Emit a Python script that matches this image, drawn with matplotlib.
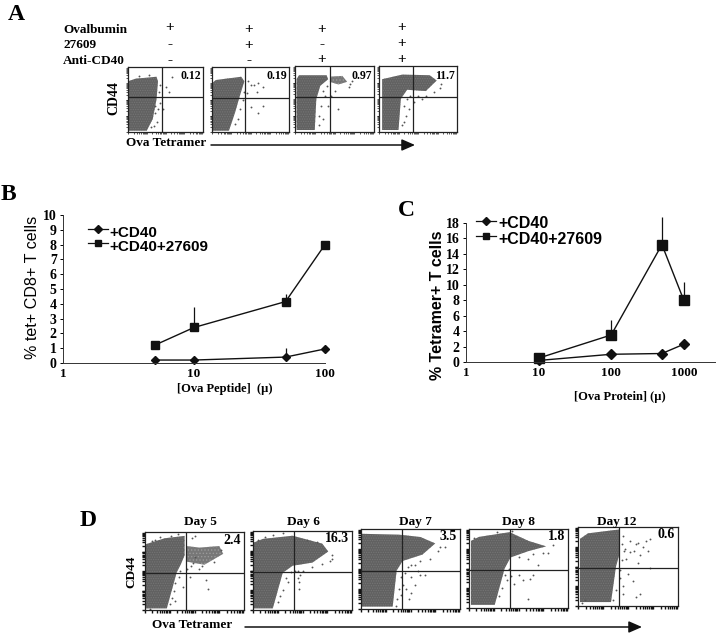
#!/usr/bin/env python3
"""Four panel figure: flow plots (A, D) and tetramer dose curves (B, C)."""

import numpy as np
import matplotlib
matplotlib.use('Agg')
import matplotlib.pyplot as plt

W, H = 720, 634
SERIF = 'Liberation Serif'
SANS = 'Liberation Sans'
DOT = '#616161'
plt.rcParams['hatch.linewidth'] = 0.6

# panel B
peptide_dose = [5, 10, 50, 100]
b_cd40 = [0.2, 0.2, 0.4, 0.95]
b_cd40_err = [0, 0, 0.6, 0]
b_combo = [1.2, 2.4, 4.15, 8.0]
b_combo_err = [0, 1.4, 0.5, 0]

# panel C
protein_dose = [10, 100, 500, 1000]
c_cd40 = [0.2, 1.0, 1.1, 2.3]
c_cd40_err = [0, 0, 0.5, 0]
c_combo = [0.5, 3.5, 15.2, 8.0]
c_combo_err = [0, 2.0, 3.6, 2.3]

# panel A, treatment table
treatment_names = ['Ovalbumin', '27609', 'Anti-CD40']
ovalbumin = ['+', '+', '+', '+']
drug = ['-', '+', '-', '+']
anti_cd40 = ['-', '-', '+', '+']

a_values = ['0.12', '0.19', '0.97', '11.7']
d_values = ['2.4', '16.3', '3.5', '1.8', '0.6']
d_days = ['Day 5', 'Day 6', 'Day 7', 'Day 8', 'Day 12']
d_day_x = [200, 303, 415, 518, 617]

# dense part of each flow plot, as outlines in box fractions (x, y from lower left)
a_clouds = [
    [(0, .02), (.25, .02), (.33, .2), (.38, .5), (.40, .78), (.38, .85), (.1, .82), (0, .78)],
    [(0, .02), (.22, .02), (.3, .3), (.36, .55), (.42, .78), (.38, .85), (.05, .8), (0, .75)],
    [(.02, .03), (.25, .03), (.27, .5), (.32, .7), (.42, .8), (.40, .86), (.05, .86), (.02, .8)],
    [(.04, .03), (.25, .03), (.28, .5), (.36, .64), (.6, .62), (.74, .78), (.65, .86), (.3, .87), (.04, .8)],
]
a_blobs = [None, None, [(.44, .76), (.55, .72), (.66, .76), (.6, .85), (.46, .84)], None]
d_clouds = [
    [(0, .02), (.22, .02), (.32, .48), (.36, .58), (.4, .7), (.4, .95), (.2, .92), (0, .84)],
    [(0, .02), (.2, .02), (.3, .47), (.4, .56), (.6, .6), (.76, .74), (.7, .84), (.4, .94), (.1, .9), (0, .85)],
    [(0, .03), (.32, .03), (.36, .48), (.42, .6), (.62, .68), (.75, .82), (.6, .9), (.38, .93), (0, .94)],
    [(.02, .04), (.26, .04), (.36, .5), (.42, .64), (.6, .72), (.78, .78), (.6, .85), (.41, .96), (.1, .9), (.02, .85)],
    [(.02, .05), (.33, .05), (.38, .5), (.42, .68), (.42, .97), (.1, .92), (.02, .85)],
]
d_blobs = [
    [(.42, .62), (.6, .58), (.79, .72), (.75, .82), (.55, .8), (.42, .82)],
    None, None, None, None,
]

# scattered events
a_events = [
    [(.5, .7), (.55, .62), (.42, .45), (.47, .36), (.58, .85), (.36, .3), (.38, .15), (.41, .62), (.4, .35),
     (.36, .4), (.34, .1), (.3, .08), (.42, .72), (.15, .86), (.28, .87)],
    [(.5, .72), (.6, .75), (.66, .7), (.58, .62), (.5, .38), (.6, .3), (.66, .4), (.46, .6), (.36, .35),
     (.34, .2), (.4, .5), (.42, .62), (.3, .12), (.47, .78), (.54, .72)],
    [(.5, .62), (.7, .72), (.45, .55), (.42, .4), (.55, .35), (.35, .2), (.38, .55), (.36, .62), (.33, .4),
     (.3, .25), (.31, .1), (.41, .7), (.72, .78), (.68, .68)],
    [(.45, .45), (.5, .55), (.38, .35), (.32, .15), (.8, .72), (.55, .5), (.36, .5), (.32, .4), (.35, .25),
     (.4, .55), (.3, .1), (.6, .55), (.7, .6), (.78, .66)],
]
d_events = [
    [(.47, .92), (.5, .95), (.45, .42), (.62, .38), (.64, .27), (.42, .52), (.46, .56), (.55, .52), (.38, .3),
     (.1, .9), (.15, .93), (.26, .95), (.33, .97), (.07, .88), (.35, .5), (.34, .42), (.3, .35), (.29, .25),
     (.27, .15), (.25, .08), (.3, .12), (.05, .01), (.5, .68), (.58, .56), (.7, .62), (.77, .77), (.48, .6)],
    [(.47, .44), (.46, .36), (.45, .4), (.45, .5), (.46, .26), (.8, .65), (.35, .35), (.42, .5), (.5, .5),
     (.05, .89), (.12, .93), (.2, .95), (.3, .97), (.55, .88), (.65, .86), (.8, .7), (.78, .62), (.33, .4),
     (.3, .25), (.27, .18), (.25, .1), (.6, .55), (.7, .58), (.38, .48)],
    [(.5, .4), (.55, .3), (.6, .42), (.45, .25), (.5, .2), (.65, .42), (.47, .52), (.55, .55), (.8, .78),
     (.42, .3), (.48, .12), (.4, .4), (.38, .25), (.36, .12), (.44, .45), (.5, .55), (.6, .6), (.7, .62),
     (.78, .72), (.58, .48), (.35, .04), (.4, .18), (.85, .78)],
    [(.43, .98), (.5, .42), (.65, .42), (.62, .37), (.6, .11), (.55, .35), (.45, .3), (.7, .55), (.8, .7),
     (.75, .7), (.42, .4), (.4, .5), (.38, .35), (.33, .25), (.3, .15), (.5, .64), (.6, .62), (.65, .68),
     (.85, .8), (.46, .9), (.05, .88), (.28, .96), (.36, .42)],
    [(.45, .88), (.52, .82), (.6, .8), (.62, .65), (.7, .7), (.65, .75), (.56, .7), (.48, .6), (.6, .55),
     (.5, .4), (.45, .25), (.55, .32), (.62, .15), (.58, .12), (.45, .15), (.72, .48), (.47, .72), (.44, .78),
     (.46, .7), (.52, .68), (.58, .78), (.68, .82), (.72, .85), (.42, .35), (.38, .2), (.35, .08), (.04, .04),
     (.07, .07), (.42, .45), (.44, .58)],
]

# box edges in pixels: left, top, right, bottom, quadrant x, quadrant y
a_boxes = [
    (128, 67, 203, 132, 162, 97),
    (212, 67, 289, 132, 245, 98),
    (295, 66, 374, 132, 330, 97),
    (379, 66, 457, 132, 413, 97),
]
d_boxes = [
    (145, 532, 244, 610, 186, 573),
    (253, 531, 352, 610, 294, 572),
    (361, 529, 460, 609, 402, 571),
    (469, 529, 568, 608, 510, 570),
    (578, 527, 678, 606, 619, 568),
]
decades = np.log10(np.arange(1, 10))


def px_axes(fig, left, top, right, bottom, **kw):
    return fig.add_axes([left / W, 1 - bottom / H, (right - left) / W, (bottom - top) / H], **kw)


def flow_box(fig, box, cloud, blob, events, tick_w, tick_len):
    left, top, right, bottom, qx, qy = box
    ax = px_axes(fig, left, top, right, bottom)
    ax.set_xlim(0, 1)
    ax.set_ylim(0, 1)
    # hatch gives the cloud some grain, edgecolor is the hatch colour here
    ax.fill(*zip(*cloud), facecolor=DOT, edgecolor='#757575', lw=0, hatch='.......', zorder=1)
    if blob:
        ax.fill(*zip(*blob), facecolor='#777777', edgecolor='#9a9a9a', lw=0, hatch='.....', zorder=1)
    ax.scatter(*zip(*events), s=1.8, color='#555555', linewidths=0, zorder=2)
    ax.axvline((qx - left) / (right - left), color='#222222', lw=0.9, zorder=3)
    ax.axhline((bottom - qy) / (bottom - top), color='#222222', lw=0.9, zorder=3)
    ticks = np.concatenate([(decades + i) / 4 for i in range(4)])
    ax.set_xticks(ticks)
    ax.set_yticks(ticks)
    ax.tick_params(length=tick_len, width=tick_w, labelbottom=False, labelleft=False, color='#111111')
    for s in ax.spines.values():
        s.set_linewidth(0.9)
        s.set_color('#222222')
    return ax


def dose_axes(fig, box, xmax, ymax, yticks, x, s1, e1, s2, e2, ms):
    ax = px_axes(fig, *box)
    ax.patch.set_alpha(0)
    ax.set_xscale('log')
    ax.set_xlim(1, xmax)
    ax.set_ylim(0, ymax)
    ax.vlines(x, s2, np.add(s2, e2), color='#111111', lw=0.9, clip_on=False)
    ax.vlines(x, s1, np.add(s1, e1), color='#111111', lw=0.9, clip_on=False)
    ax.plot(x, s1, marker='D', ms=ms[0], color='#111111', lw=1.0, clip_on=False)
    ax.plot(x, s2, marker='s', ms=ms[1], color='#111111', lw=1.0, clip_on=False)
    ax.set_yticks(yticks)
    ax.set_yticklabels(yticks, family=SERIF, fontweight='bold', fontsize=10)
    ax.tick_params(axis='y', length=2.5, width=0.7, pad=2)
    ax.tick_params(axis='x', which='both', length=0, pad=3.5)
    ax.xaxis.set_major_formatter(plt.FuncFormatter(lambda v, p: f'{v:g}'))
    for lab in ax.get_xticklabels():
        lab.set_family(SERIF)
        lab.set_fontweight('bold')
        lab.set_fontsize(9.5)
    ax.spines[['top', 'right']].set_visible(False)
    for s in ['left', 'bottom']:
        ax.spines[s].set_linewidth(0.7)
        ax.spines[s].set_color('#333333')
    return ax


def main():
    fig = plt.figure(figsize=(W / 100, H / 100), dpi=100)

    # overlay in pixel coordinates for labels and legends
    ov = fig.add_axes([0, 0, 1, 1], zorder=5)
    ov.set_xlim(0, W)
    ov.set_ylim(H, 0)
    ov.axis('off')

    def serif(x, y, s, size=9.5, **kw):
        ov.text(x, y, s, family=SERIF, fontweight='bold', fontsize=size, va='center', **kw)

    def sans(x, y, s, size=11, **kw):
        ov.text(x, y, s, family=SANS, fontweight='bold', fontsize=size, va='center', **kw)

    # panel letters
    serif(8, 15, 'A', size=17)
    serif(1, 195, 'B', size=17)
    serif(398, 211, 'C', size=17)
    serif(80, 520, 'D', size=17)

    # panel A header
    for y, name in zip([30, 45, 61], treatment_names):
        serif(63, y, name)
    col_x = [170, 249, 322, 402]
    for y, col in zip([[28, 29, 29, 27], [45, 45, 45, 43], [61, 61, 60, 59]], [ovalbumin, drug, anti_cd40]):
        for cx, cy, sign in zip(col_x, y, col):
            serif(cx, cy, sign, size=11, ha='center')

    for box, cloud, blob, ev, val in zip(a_boxes, a_clouds, a_blobs, a_events, a_values):
        flow_box(fig, box, cloud, blob, ev, 0.5, 1.6)
        serif(box[2] - 2, 76, val, size=8.5, ha='right')
    serif(114, 98, 'CD44', size=10, rotation=90, ha='center')
    serif(126, 143, 'Ova Tetramer', size=9.5)
    ov.annotate('', xy=(415, 145), xytext=(211, 145),
                arrowprops=dict(arrowstyle='-|>,head_width=0.35,head_length=0.8', color='#111111', lw=1.1,
                                shrinkA=0, shrinkB=0))

    # panel B
    dose_axes(fig, (63, 215, 325, 363), 100, 10, list(range(11)), peptide_dose,
              b_cd40, b_cd40_err, b_combo, b_combo_err, (4.2, 5.2))
    ov.text(33, 287, '% tet+ CD8+ T cells', family=SANS, fontsize=11.6, rotation=90, ha='center', va='center')
    serif(225, 389, '[Ova Peptide]  (\u00b5)', size=9, ha='center')
    ov.plot([88, 108], [229, 229], color='#111111', lw=0.9)
    ov.plot([98], [229], marker='D', ms=3.6, color='#111111')
    ov.plot([88, 108], [243, 243], color='#111111', lw=0.9)
    ov.plot([98], [243], marker='s', ms=4.6, color='#111111')
    sans(109, 233, '+CD40', size=11)
    sans(109, 247, '+CD40+27609', size=11)

    # panel C
    dose_axes(fig, (466, 223, 715, 362), 10 ** 3.43, 18, list(range(0, 19, 2)), protein_dose,
              c_cd40, c_cd40_err, c_combo, c_combo_err, (5.2, 6.6))
    ov.text(438, 305, '% Tetramer+ T cells', family=SANS, fontweight='bold', fontsize=11.5, rotation=90,
            ha='center', va='center')
    serif(620, 397, '[Ova Protein] (\u00b5)', size=9, ha='center')
    ov.plot([476, 496], [221, 221], color='#111111', lw=0.9)
    ov.plot([486], [221], marker='D', ms=3.6, color='#111111')
    ov.plot([476, 496], [236, 236], color='#111111', lw=0.9)
    ov.plot([486], [236], marker='s', ms=4.6, color='#111111')
    sans(498, 224, '+CD40', size=11.5)
    sans(498, 240, '+CD40+27609', size=11.5)

    # panel D
    for box, cloud, blob, ev, val, day, dx in zip(d_boxes, d_clouds, d_blobs, d_events, d_values, d_days, d_day_x):
        flow_box(fig, box, cloud, blob, ev, 1.0, 2.4)
        serif(box[2] - 3, box[1] + 8, val, size=10, ha='right')
        serif(dx, 522, day, size=9.5, ha='center')
    serif(131, 572, 'CD44', size=9.5, rotation=90, ha='center')
    serif(152, 625, 'Ova Tetramer', size=9.5)
    ov.annotate('', xy=(642, 627), xytext=(245, 627),
                arrowprops=dict(arrowstyle='-|>,head_width=0.35,head_length=0.8', color='#111111', lw=1.1,
                                shrinkA=0, shrinkB=0))

    fig.savefig('out.png', dpi=100, facecolor='white')


if __name__ == "__main__":
    main()
